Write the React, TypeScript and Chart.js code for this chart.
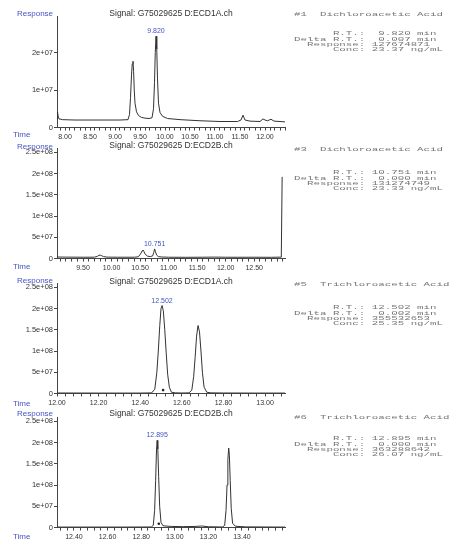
import React, { useEffect, useRef } from 'react';
import { Chart, registerables } from 'chart.js';

Chart.register(...registerables);
Chart.defaults.font.family = '"Liberation Sans", Arial, sans-serif';

// ---------- Panel 1: ECD1A, Dichloroacetic Acid ----------
const P1_TIME = [7.84, 7.85, 7.865, 7.88, 7.95, 8.2, 8.5, 8.8, 9.1, 9.26, 9.29, 9.31, 9.33, 9.345, 9.36, 9.372, 9.385, 9.4, 9.43, 9.47, 9.53, 9.6, 9.68, 9.74, 9.77, 9.79, 9.805, 9.82, 9.835, 9.85, 9.87, 9.9, 9.95, 10.05, 10.3, 10.7, 11.1, 11.45, 11.52, 11.56, 11.6, 11.7, 11.9, 11.96, 12.0, 12.05, 12.12, 12.18, 12.3, 12.4];
const P1_RESP = [2.2e6, 4.2e6, 2.8e6, 2.3e6, 2.1e6, 2.0e6, 2.0e6, 2.0e6, 2.0e6, 2.1e6, 3.5e6, 8e6, 1.4e7, 1.7e7, 1.77e7, 1.5e7, 1.0e7, 6.5e6, 4.2e6, 3.2e6, 2.7e6, 2.5e6, 2.4e6, 2.6e6, 5e6, 1.2e7, 2.0e7, 2.44e7, 2.1e7, 1.3e7, 6.5e6, 4.0e6, 3.0e6, 2.4e6, 2.1e6, 1.8e6, 1.6e6, 1.6e6, 2.0e6, 3.3e6, 2.0e6, 1.7e6, 1.6e6, 2.3e6, 2.0e6, 1.8e6, 2.2e6, 1.7e6, 1.6e6, 1.5e6];
const P1_X_TICKS = [8.0, 8.5, 9.0, 9.5, 10.0, 10.5, 11.0, 11.5, 12.0];
const P1_X_LABELS = ['8.00', '8.50', '9.00', '9.50', '10.00', '10.50', '11.00', '11.50', '12.00'];

// ---------- Panel 2: ECD2B, Dichloroacetic Acid ----------
const P2_TIME = [9.044, 9.2, 9.5, 9.7, 9.75, 9.78, 9.8, 9.82, 9.86, 9.92, 10.1, 10.4, 10.47, 10.51, 10.535, 10.55, 10.565, 10.59, 10.63, 10.68, 10.72, 10.74, 10.755, 10.77, 10.79, 10.82, 10.88, 11.0, 11.3, 11.6, 11.8, 12.0, 12.2, 12.5, 12.8, 12.975, 12.99];
const P2_RESP = [3.5e6, 3.2e6, 3.0e6, 3.1e6, 5e6, 7.5e6, 8e6, 7e6, 4.5e6, 3.2e6, 3.0e6, 3.0e6, 4e6, 1.1e7, 1.8e7, 2.0e7, 1.7e7, 1.0e7, 5.5e6, 4.5e6, 6e6, 1.4e7, 2.25e7, 1.6e7, 8e6, 4.5e6, 3.5e6, 3.0e6, 2.8e6, 3.0e6, 3.3e6, 3.0e6, 2.9e6, 3.0e6, 2.8e6, 3.2e6, 1.92e8];
const P2_X_TICKS = [9.5, 10.0, 10.5, 11.0, 11.5, 12.0, 12.5];
const P2_X_LABELS = ['9.50', '10.00', '10.50', '11.00', '11.50', '12.00', '12.50'];

// ---------- Panel 3: ECD1A, Trichloroacetic Acid ----------
const P3_TIME = [12.0, 12.2, 12.4, 12.455, 12.47, 12.48, 12.487, 12.494, 12.5, 12.505, 12.511, 12.518, 12.525, 12.532, 12.54, 12.55, 12.57, 12.6, 12.635, 12.648, 12.657, 12.664, 12.671, 12.678, 12.685, 12.692, 12.699, 12.707, 12.72, 12.74, 12.8, 12.95, 13.096];
const P3_RESP = [1.2e6, 1.0e6, 1.0e6, 1.5e6, 1.0e7, 5e7, 1.0e8, 1.6e8, 2.0e8, 2.07e8, 1.95e8, 1.5e8, 9.5e7, 4.5e7, 1.5e7, 3e6, 1.5e6, 1.2e6, 1.5e6, 8e6, 4e7, 8.5e7, 1.35e8, 1.6e8, 1.45e8, 1.0e8, 5e7, 1.5e7, 3e6, 1.5e6, 1.2e6, 1.0e6, 1.0e6];
const P3_X_TICKS = [12.0, 12.2, 12.4, 12.6, 12.8, 13.0];
const P3_X_LABELS = ['12.00', '12.20', '12.40', '12.60', '12.80', '13.00'];
const P3_MARK_TIME = [12.51];
const P3_MARK_RESP = [8e6];

// ---------- Panel 4: ECD2B, Trichloroacetic Acid ----------
const P4_TIME = [12.299, 12.5, 12.7, 12.86, 12.872, 12.88, 12.886, 12.891, 12.895, 12.899, 12.904, 12.91, 12.918, 12.93, 12.98, 13.05, 13.12, 13.16, 13.2, 13.285, 13.297, 13.305, 13.311, 13.316, 13.321, 13.325, 13.33, 13.336, 13.344, 13.36, 13.42, 13.55, 13.656];
const P4_RESP = [1.0e6, 1.0e6, 1.0e6, 1.2e6, 5e6, 4e7, 1.1e8, 1.8e8, 2.05e8, 1.85e8, 1.2e8, 5e7, 1.2e7, 4e6, 2.5e6, 2e6, 2.5e6, 3.5e6, 1.8e6, 1.2e6, 5e6, 4e7, 1.0e8, 1.6e8, 1.87e8, 1.7e8, 1.1e8, 4.5e7, 1e7, 3e6, 1.5e6, 1.2e6, 1.0e6];
const P4_X_TICKS = [12.4, 12.6, 12.8, 13.0, 13.2, 13.4];
const P4_X_LABELS = ['12.40', '12.60', '12.80', '13.00', '13.20', '13.40'];
const P4_MARK_TIME = [12.905];
const P4_MARK_RESP = [9e6];

// ---------- Y axis ticks ----------
const Y_TICKS_SMALL = [0, 1e7, 2e7];
const Y_LABELS_SMALL = ['0', '1e+07', '2e+07'];
const Y_TICKS_LARGE = [0, 5e7, 1e8, 1.5e8, 2e8, 2.5e8];
const Y_LABELS_LARGE = ['0', '5e+07', '1e+08', '1.5e+08', '2e+08', '2.5e+08'];

// ---------- Peak labels ----------
const PEAK_TIMES = [9.82, 10.755, 12.505, 12.895];
const PEAK_LABELS = ['9.820', '10.751', '12.502', '12.895'];

// ---------- Texts ----------
const SIGNALS = ['Signal: G75029625 D:ECD1A.ch', 'Signal: G75029625 D:ECD2B.ch', 'Signal: G75029625 D:ECD1A.ch', 'Signal: G75029625 D:ECD2B.ch'];
const COMPOUNDS = ['#1  Dichloroacetic Acid', '#3  Dichloroacetic Acid', '#5  Trichloroacetic Acid', '#6  Trichloroacetic Acid'];
const RTS = ['9.820', '10.751', '12.502', '12.895'];
const DELTAS = ['0.007', '0.000', '0.002', '0.000'];
const RESPONSES = ['127674871', '131274749', '355532653', '363288642'];
const CONCS = ['23.37', '23.33', '25.35', '26.07'];

const X_MIN = [7.84, 9.044, 12.0, 12.299];
const X_MAX = [12.4, 13.04, 13.096, 13.656];
const Y_MAX = [2.98e7, 2.6e8, 2.6e8, 2.6e8];
const X_MINOR = [0.1, 0.1, 0.04, 0.04];

// layout (pixels)
const LAYOUT = [
  { canvasTop: 0, canvasH: 146, plotTop: 16, plotBottom: 127.5, signalY: 13, respY: 13.5, timeY: 135, compY: 15, linesY: 34 },
  { canvasTop: 140, canvasH: 140, plotTop: 148, plotBottom: 258.5, signalY: 145, respY: 147, timeY: 267, compY: 150, linesY: 173 },
  { canvasTop: 276, canvasH: 138, plotTop: 283, plotBottom: 393.5, signalY: 281, respY: 281, timeY: 404, compY: 285, linesY: 308 },
  { canvasTop: 410, canvasH: 136, plotTop: 417, plotBottom: 527.5, signalY: 413, respY: 414, timeY: 537, compY: 418, linesY: 439 },
];

const PANELS = [
  { time: P1_TIME, resp: P1_RESP, xTicks: P1_X_TICKS, xLabels: P1_X_LABELS, yTicks: Y_TICKS_SMALL, yLabels: Y_LABELS_SMALL, markT: null, markR: null },
  { time: P2_TIME, resp: P2_RESP, xTicks: P2_X_TICKS, xLabels: P2_X_LABELS, yTicks: Y_TICKS_LARGE, yLabels: Y_LABELS_LARGE, markT: null, markR: null },
  { time: P3_TIME, resp: P3_RESP, xTicks: P3_X_TICKS, xLabels: P3_X_LABELS, yTicks: Y_TICKS_LARGE, yLabels: Y_LABELS_LARGE, markT: P3_MARK_TIME, markR: P3_MARK_RESP },
  { time: P4_TIME, resp: P4_RESP, xTicks: P4_X_TICKS, xLabels: P4_X_LABELS, yTicks: Y_TICKS_LARGE, yLabels: Y_LABELS_LARGE, markT: P4_MARK_TIME, markR: P4_MARK_RESP },
];

const BLUE = '#4653c4';
const AXIS = '#444';

function Panel({ idx }: { idx: number }) {
  const ref = useRef<HTMLCanvasElement>(null);
  const p = PANELS[idx];
  const L = LAYOUT[idx];
  useEffect(() => {
    const canvas = ref.current;
    if (!canvas) return;
    const xMin = X_MIN[idx];
    const xMax = X_MAX[idx];
    const step = X_MINOR[idx];
    const minor: number[] = [];
    for (let k = Math.ceil(xMin / step - 1e-6); k * step <= xMax + 1e-9; k++) {
      minor.push(+(k * step).toFixed(4));
    }
    let pi = 0;
    for (let i = 0; i < p.time.length; i++) {
      if (Math.abs(p.time[i] - PEAK_TIMES[idx]) < Math.abs(p.time[pi] - PEAK_TIMES[idx])) pi = i;
    }
    const peakPlugin = {
      id: 'peakLabel',
      afterDatasetsDraw(chart: any) {
        const { ctx, scales } = chart;
        ctx.save();
        ctx.font = '7px "Liberation Sans", Arial, sans-serif';
        ctx.fillStyle = BLUE;
        ctx.textAlign = 'center';
        ctx.textBaseline = 'alphabetic';
        ctx.fillText(PEAK_LABELS[idx], scales.x.getPixelForValue(p.time[pi]), scales.y.getPixelForValue(p.resp[pi]) - 3);
        ctx.restore();
      },
    };
    const datasets: any[] = [
      {
        data: p.time.map((t, i) => ({ x: t, y: p.resp[i] })),
        borderColor: '#333',
        borderWidth: 1,
        pointRadius: 0,
        tension: 0,
        fill: false,
      },
    ];
    if (p.markT) {
      datasets.push({
        data: p.markT.map((t, i) => ({ x: t, y: (p.markR as number[])[i] })),
        showLine: false,
        pointRadius: 1.3,
        pointBackgroundColor: '#222',
        pointBorderWidth: 0,
      });
    }
    const padTop = L.plotTop - L.canvasTop;
    const xAxisH = L.canvasH - (L.plotBottom - L.canvasTop);
    const chart = new Chart(canvas, {
      type: 'line',
      data: { datasets },
      options: {
        animation: false,
        responsive: false,
        devicePixelRatio: 1,
        layout: { padding: { top: padTop, right: 15, left: 0, bottom: 0 } },
        plugins: { legend: { display: false }, tooltip: { enabled: false }, title: { display: false } },
        scales: {
          x: {
            type: 'linear',
            min: xMin,
            max: xMax,
            afterBuildTicks: (scale: any) => {
              scale.ticks = minor.map((v) => ({ value: v }));
            },
            afterFit: (scale: any) => {
              scale.height = xAxisH;
            },
            ticks: {
              autoSkip: false,
              maxRotation: 0,
              minRotation: 0,
              padding: 2,
              color: '#333',
              font: { size: 7 },
              callback: (v: any) => {
                const j = p.xTicks.findIndex((m) => Math.abs(m - Number(v)) < 1e-6);
                return j >= 0 ? p.xLabels[j] : '';
              },
            },
            grid: { display: true, drawOnChartArea: false, drawTicks: true, tickLength: 3, tickColor: AXIS },
            border: { display: true, color: AXIS, width: 1 },
          },
          y: {
            type: 'linear',
            min: 0,
            max: Y_MAX[idx],
            afterBuildTicks: (scale: any) => {
              scale.ticks = p.yTicks.map((v) => ({ value: v }));
            },
            afterFit: (scale: any) => {
              scale.width = 57;
            },
            ticks: {
              padding: 1,
              color: '#333',
              font: { size: 7.5 },
              callback: (v: any) => {
                const j = p.yTicks.findIndex((m) => Math.abs(m - Number(v)) < 1);
                return j >= 0 ? p.yLabels[j] : '';
              },
            },
            grid: { display: true, drawOnChartArea: false, drawTicks: true, tickLength: 3, tickColor: AXIS },
            border: { display: true, color: AXIS, width: 1 },
          },
        },
      },
      plugins: [peakPlugin],
    } as any);
    return () => chart.destroy();
  }, [idx]);
  return (
    <canvas
      ref={ref}
      width={300}
      height={L.canvasH}
      style={{ position: 'absolute', left: 0, top: L.canvasTop, width: 300, height: L.canvasH }}
    />
  );
}

const sans = '"Liberation Sans", Arial, sans-serif';
const mono = '"Liberation Mono", "DejaVu Sans Mono", monospace';

function TextBlock({ idx }: { idx: number }) {
  const L = LAYOUT[idx];
  const lines = [
    '      R.T.:' + (RTS[idx] + ' min').padStart(11),
    'Delta R.T.:' + (DELTAS[idx] + ' min').padStart(11),
    '  Response: ' + RESPONSES[idx],
    '      Conc: ' + CONCS[idx] + ' ng/mL',
  ];
  const base: React.CSSProperties = {
    position: 'absolute',
    left: 294,
    fontFamily: mono,
    fontSize: 10.8,
    lineHeight: '10px',
    whiteSpace: 'pre',
    color: '#777',
    transform: 'scaleY(0.53)',
    transformOrigin: '0 0',
  };
  return (
    <>
      <div style={{ ...base, top: L.compY - 2.6 }}>{COMPOUNDS[idx]}</div>
      <div style={{ ...base, top: L.linesY - 2.6 }}>{lines.join('\n')}</div>
    </>
  );
}

function Labels({ idx }: { idx: number }) {
  const L = LAYOUT[idx];
  const lab: React.CSSProperties = { position: 'absolute', fontFamily: sans, fontSize: 8, lineHeight: '8px', whiteSpace: 'pre' };
  return (
    <>
      <div style={{ ...lab, left: 17, top: L.respY - 4, color: BLUE }}>Response</div>
      <div style={{ ...lab, left: 13, top: L.timeY - 4, color: BLUE }}>Time</div>
      <div style={{ ...lab, left: 171, top: L.signalY - 4, color: '#333', fontSize: 8.5, transform: 'translateX(-50%)' }}>{SIGNALS[idx]}</div>
    </>
  );
}

export default function App() {
  return (
    <div style={{ position: 'fixed', left: 0, top: 0, width: 450, height: 546, background: '#fff', overflow: 'hidden' }}>
      {[0, 1, 2, 3].map((i) => (
        <Panel key={'p' + i} idx={i} />
      ))}
      {[0, 1, 2, 3].map((i) => (
        <Labels key={'l' + i} idx={i} />
      ))}
      {[0, 1, 2, 3].map((i) => (
        <TextBlock key={'t' + i} idx={i} />
      ))}
    </div>
  );
}
